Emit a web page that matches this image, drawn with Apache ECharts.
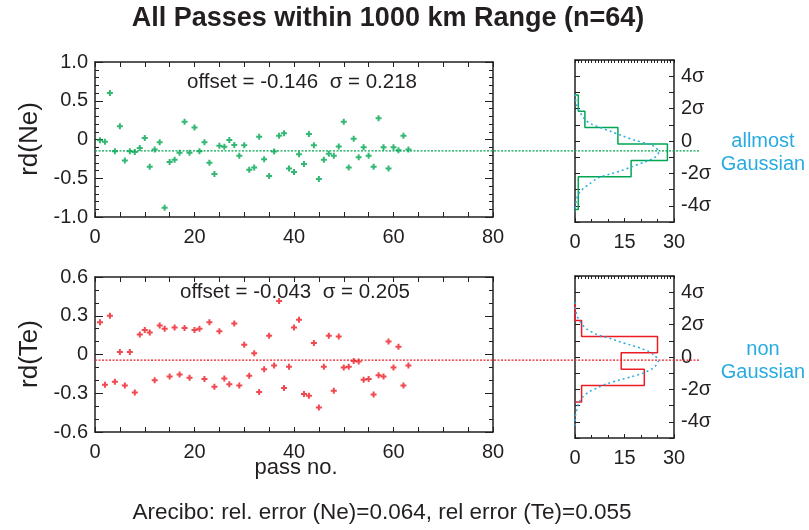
<!DOCTYPE html>
<html><head><meta charset="utf-8">
<script src="https://cdn.jsdelivr.net/npm/echarts@6/dist/echarts.min.js"></script>
<style>html,body{margin:0;padding:0;background:#fff}#c{width:809px;height:530px}</style>
</head><body><div id="c"></div>
<script>
// ---- data ----
const passNo = [1,2,3,4,5,6,7,8,9,10,11,12,13,14,15,16,17,18,19,20,21,22,23,24,25,26,27,28,29,30,31,32,33,34,35,36,37,38,39,40,41,42,43,44,45,46,47,48,49,50,51,52,53,54,55,56,57,58,59,60,61,62,63];
const rdNe = [-0.01,-0.03,0.60,-0.15,0.17,-0.27,-0.15,-0.16,-0.11,0.02,-0.35,-0.13,-0.035,-0.88,-0.29,-0.26,-0.17,0.23,-0.17,0.155,-0.15,-0.035,-0.30,-0.445,-0.08,-0.095,-0.005,-0.07,-0.21,-0.075,-0.39,-0.36,0.035,-0.255,-0.47,-0.155,0.05,0.08,-0.375,-0.42,-0.19,-0.315,0.07,-0.075,-0.51,-0.26,-0.185,-0.21,-0.09,0.23,-0.36,0.01,-0.23,-0.10,-0.21,-0.35,0.275,-0.10,-0.375,-0.10,-0.14,0.05,-0.13];
const rdTe = [0.25,-0.235,0.30,-0.21,0.02,-0.24,0.02,-0.295,0.155,0.19,0.17,-0.20,0.225,0.20,-0.17,0.21,-0.155,0.205,-0.18,0.19,0.20,-0.19,0.25,-0.25,0.18,-0.185,-0.23,0.24,-0.24,0.075,-0.165,0.01,-0.29,-0.115,0.145,-0.085,0.415,-0.26,-0.095,0.21,0.27,-0.305,-0.32,0.09,-0.41,-0.095,0.145,-0.28,0.14,-0.10,-0.095,-0.05,-0.055,-0.195,-0.19,-0.31,-0.16,-0.17,0.10,-0.10,0.06,-0.24,-0.085];
const offsetNe = -0.146, sigmaNe = 0.218;
const offsetTe = -0.043, sigmaTe = 0.205;
// histograms (bin edges in sigma units, counts)
const histNeEdges = [2.84, 1.84, 0.83, -0.19, -1.20, -2.21, -3.22, -4.23];
const histNeCounts = [1, 3, 13, 28, 17, 1, 1];
const histTeEdges = [3.27, 2.25, 1.27, 0.26, -0.75, -1.76, -2.78];
const histTeCounts = [0, 2, 25, 14, 21, 2];
// fitted gaussian curves
const gaussNeCount = [0,0.5,2.0,3.2,5.0,7.5,11.1,14.6,18.1,21.6,23.7,25.4,24.4,22.6,20.6,17.1,13.6,10.1,7.0,4.5,2.5,1.5,0.5,0];
const gaussNeSigma = [2.88,2.22,1.60,1.29,1.04,0.84,0.57,0.30,0.05,-0.15,-0.30,-0.67,-0.98,-1.18,-1.33,-1.60,-1.86,-2.07,-2.28,-2.63,-2.94,-3.14,-3.56,-4.38];
const gaussTeCount = [0,0.2,0.8,2.0,3.5,6.1,8.1,11.1,13.2,16.7,19.8,22.3,24.1,25.3,24.5,23.3,20.8,17.2,13.7,9.6,7.1,4.0,2.5,1.2,0.5,0,0];
const gaussTeSigma = [3.39,2.88,2.46,2.05,1.74,1.43,1.29,1.12,0.96,0.75,0.55,0.34,0.09,-0.22,-0.53,-0.73,-0.98,-1.21,-1.41,-1.66,-1.87,-2.18,-2.44,-2.80,-3.31,-3.82,-4.24];
const scatterXTicks = [0, 80, 20];
const histXTicks = [0, 30, 15];

// ---- build ----
const FONT = "'Liberation Sans', Arial, sans-serif";
const INK = '#231f20';
const GREEN = '#00a651';
const RED = '#ed1c24';
const CYAN = '#29abe2';
const PLUS = 'path://M2,0H4V2H6V4H4V6H2V4H0V2H2Z';

function stepPath(edges, counts) {
  const p = [[0, edges[0]]];
  for (let i = 0; i < counts.length; i++) {
    p.push([counts[i], edges[i]]);
    p.push([counts[i], edges[i + 1]]);
  }
  p.push([0, edges[edges.length - 1]]);
  return p;
}
const zip = (a, b) => a.map((v, i) => [v, b[i]]);

const grids = [
  {left: 95, top: 62, width: 398, height: 155},
  {left: 95, top: 277, width: 398, height: 155},
  {left: 575, top: 60, width: 99, height: 162},
  {left: 575, top: 276, width: 99, height: 162},
  {left: 95, top: 62, width: 604, height: 155},
  {left: 95, top: 277, width: 604, height: 155}
];

const lineStyle = {color: INK, width: 1.5};
function xAx(grid, pos, min, max, interval, minorSplit, labels, tickLen, minorLen) {
  return {
    type: 'value', gridIndex: grid, position: pos, min, max, interval,
    axisLine: {show: true, onZero: false, lineStyle},
    axisTick: {show: true, inside: true, length: tickLen, lineStyle: {color: INK, width: 1}},
    minorTick: {show: true, splitNumber: minorSplit, length: minorLen, lineStyle: {color: INK, width: 1}},
    axisLabel: {show: labels, fontSize: 20, color: INK, fontFamily: FONT, margin: 10},
    splitLine: {show: false}, minorSplitLine: {show: false}
  };
}
function yAx(grid, pos, min, max, interval, minorSplit, labelFmt, tickLen, minorLen) {
  return {
    type: 'value', gridIndex: grid, position: pos, min, max, interval,
    axisLine: {show: true, onZero: false, lineStyle},
    axisTick: {show: true, inside: true, length: tickLen, lineStyle: {color: INK, width: 1}},
    minorTick: {show: minorSplit > 1, splitNumber: minorSplit, length: minorLen, lineStyle: {color: INK, width: 1}},
    axisLabel: {show: !!labelFmt, formatter: labelFmt || undefined, fontSize: 20, color: INK, fontFamily: FONT, margin: 7},
    splitLine: {show: false}, minorSplitLine: {show: false}
  };
}
const fmtNe = v => v === 0 ? '0' : v.toFixed(1);
const fmtTe = v => Math.abs(v) < 1e-9 ? '0' : v.toFixed(1);
const fmtSig = v => (Math.abs(v) % 2 === 1 || Math.abs(v) === 5) ? '' : (v === 0 ? '0' : v + 'σ');

const xAxes = [
  xAx(0, 'bottom', scatterXTicks[0], scatterXTicks[1], scatterXTicks[2], 4, true, 5, 5),
  xAx(0, 'top', scatterXTicks[0], scatterXTicks[1], scatterXTicks[2], 4, false, 5, 5),
  xAx(1, 'bottom', scatterXTicks[0], scatterXTicks[1], scatterXTicks[2], 4, true, 5, 5),
  xAx(1, 'top', scatterXTicks[0], scatterXTicks[1], scatterXTicks[2], 4, false, 5, 5),
  xAx(2, 'bottom', histXTicks[0], histXTicks[1], histXTicks[2], 3, true, 4, 3),
  xAx(2, 'top', histXTicks[0], histXTicks[1], histXTicks[2], 15, false, 3, 3),
  xAx(3, 'bottom', histXTicks[0], histXTicks[1], histXTicks[2], 3, true, 4, 3),
  xAx(3, 'top', histXTicks[0], histXTicks[1], histXTicks[2], 15, false, 3, 3),
  {type: 'value', gridIndex: 4, min: 0, max: 1, show: false},
  {type: 'value', gridIndex: 5, min: 0, max: 1, show: false}
];
const yAxes = [
  yAx(0, 'left', -1, 1, 0.5, 5, fmtNe, 8, 4),
  yAx(0, 'right', -1, 1, 0.5, 5, null, 8, 4),
  yAx(1, 'left', -0.6, 0.6, 0.3, 3, fmtTe, 8, 4),
  yAx(1, 'right', -0.6, 0.6, 0.3, 3, null, 8, 4),
  yAx(2, 'right', -5, 5, 1, 1, fmtSig, 5, 0),
  yAx(2, 'left', -5, 5, 1, 1, null, 5, 0),
  yAx(3, 'right', -5, 5, 1, 1, fmtSig, 5, 0),
  yAx(3, 'left', -5, 5, 1, 1, null, 5, 0),
  {type: 'value', gridIndex: 4, min: -1, max: 1, show: false},
  {type: 'value', gridIndex: 5, min: -0.6, max: 0.6, show: false}
];

const series = [
  {type: 'line', xAxisIndex: 8, yAxisIndex: 8, data: [[0, offsetNe], [1, offsetNe]], symbol: 'none', silent: true,
   lineStyle: {color: GREEN, width: 1.2, type: [2, 1.5]}, z: 1},
  {type: 'line', xAxisIndex: 9, yAxisIndex: 9, data: [[0, offsetTe], [1, offsetTe]], symbol: 'none', silent: true,
   lineStyle: {color: RED, width: 1.2, type: [2, 1.5]}, z: 1},
  {type: 'scatter', xAxisIndex: 0, yAxisIndex: 0, data: zip(passNo, rdNe), symbol: PLUS, symbolSize: 6,
   itemStyle: {color: GREEN}, z: 3},
  {type: 'scatter', xAxisIndex: 2, yAxisIndex: 2, data: zip(passNo, rdTe), symbol: PLUS, symbolSize: 6,
   itemStyle: {color: RED}, z: 3},
  {type: 'line', xAxisIndex: 4, yAxisIndex: 4, data: stepPath(histNeEdges, histNeCounts), symbol: 'none',
   lineStyle: {color: GREEN, width: 1.5}, z: 3},
  {type: 'line', xAxisIndex: 4, yAxisIndex: 4, data: zip(gaussNeCount, gaussNeSigma), symbol: 'none', smooth: 0.3,
   lineStyle: {color: CYAN, width: 1.5, type: [2, 3]}, z: 4},
  {type: 'line', xAxisIndex: 6, yAxisIndex: 6, data: stepPath(histTeEdges, histTeCounts), symbol: 'none',
   lineStyle: {color: RED, width: 1.5}, z: 3},
  {type: 'line', xAxisIndex: 6, yAxisIndex: 6, data: zip(gaussTeCount, gaussTeSigma), symbol: 'none', smooth: 0.3,
   lineStyle: {color: CYAN, width: 1.5, type: [2, 3]}, z: 4}
];

function txt(text, x, y, size, opts) {
  return Object.assign({
    type: 'text', x, y, silent: true,
    style: Object.assign({text, fill: INK, font: size + 'px ' + FONT, align: 'center', verticalAlign: 'middle'}, (opts && opts.style) || {})
  }, (opts && opts.el) || {});
}
const graphic = [
  txt('All Passes within 1000 km Range (n=64)', 388, 19, 27, {style: {font: 'bold 27px ' + FONT}}),
  txt('offset = ' + offsetNe.toFixed(3) + '  σ = ' + sigmaNe.toFixed(3), 302, 82, 20.5),
  txt('offset = ' + offsetTe.toFixed(3) + '  σ = ' + sigmaTe.toFixed(3), 295, 292, 20.5),
  txt('rd(Ne)', 30, 139, 26, {el: {rotation: Math.PI / 2}}),
  txt('rd(Te)', 30, 354, 26, {el: {rotation: Math.PI / 2}}),
  txt('pass no.', 296, 468, 22),
  txt('Arecibo: rel. error (Ne)=0.064, rel error (Te)=0.055', 382, 513, 22.5),
  txt('allmost\nGaussian', 763, 153, 20, {style: {fill: CYAN, lineHeight: 23}}),
  txt('non\nGaussian', 763, 361, 20, {style: {fill: CYAN, lineHeight: 23}})
];

const chart = echarts.init(document.getElementById('c'), null, {renderer: 'canvas'});
chart.setOption({
  backgroundColor: '#fff',
  animation: false,
  grid: grids,
  xAxis: xAxes,
  yAxis: yAxes,
  series,
  graphic
});
</script></body></html>
